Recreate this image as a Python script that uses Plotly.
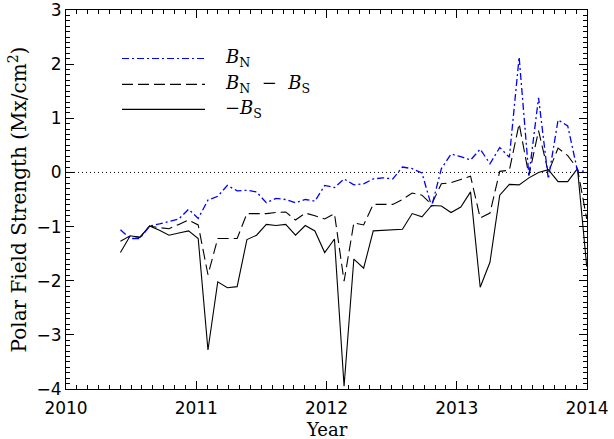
import plotly.graph_objects as go

# Decimal year of each Carrington rotation sample
years = [2010.418, 2010.493, 2010.567, 2010.642, 2010.717, 2010.791, 2010.866, 2010.941,
         2011.015, 2011.090, 2011.165, 2011.239, 2011.314, 2011.389, 2011.463, 2011.538,
         2011.613, 2011.687, 2011.762, 2011.837, 2011.911, 2011.986, 2012.061, 2012.135,
         2012.210, 2012.285, 2012.359, 2012.434, 2012.509, 2012.583, 2012.658, 2012.733,
         2012.807, 2012.882, 2012.956, 2013.031, 2013.106, 2013.180, 2013.255, 2013.330,
         2013.404, 2013.479, 2013.554, 2013.628, 2013.703, 2013.778, 2013.852, 2013.927,
         2013.998]

b_north = [-1.06, -1.22, -1.22, -0.99, -0.95, -0.91, -0.86, -0.68,
           -0.85, -0.51, -0.44, -0.24, -0.34, -0.33, -0.36, -0.56,
           -0.48, -0.50, -0.56, -0.50, -0.53, -0.24, -0.28, -0.12,
           -0.23, -0.21, -0.12, -0.10, -0.12, 0.10, 0.07, -0.01,
           -0.63, 0.07, 0.34, 0.29, 0.23, 0.43, 0.16, 0.46,
           0.28, 2.13, -0.06, 1.38, -0.12, 0.97, 0.86, 0.03,
           0.02]

b_diff = [-1.27, -1.17, -1.20, -0.99, -1.02, -1.04, -0.96, -0.88,
          -0.97, -1.89, -1.22, -1.22, -1.22, -0.76, -0.76, -0.76,
          -0.74, -0.73, -0.88, -0.75, -0.80, -0.86, -0.76, -2.01,
          -0.93, -0.97, -0.59, -0.59, -0.59, -0.50, -0.38, -0.42,
          -0.59, -0.21, -0.19, -0.13, -0.07, -0.84, -0.75, 0.02,
          0.04, 0.90, -0.06, 0.77, 0.00, 0.45, 0.31, 0.07,
          -0.86]

neg_b_south = [-1.48, -1.17, -1.20, -0.99, -1.07, -1.16, -1.12, -1.08,
               -1.22, -3.28, -2.02, -2.13, -2.11, -1.24, -1.16, -0.96,
               -0.98, -0.96, -1.16, -0.98, -1.08, -1.48, -1.23, -3.95,
               -1.60, -1.77, -1.08, -1.07, -1.06, -1.05, -0.76, -0.82,
               -0.61, -0.62, -0.74, -0.64, -0.36, -2.12, -1.66, -0.42,
               -0.22, -0.23, -0.10, 0.00, 0.05, -0.17, -0.17, 0.07,
               -1.74]

x_ticks = [2010, 2011, 2012, 2013, 2014]
y_ticks = [-4, -3, -2, -1, 0, 1, 2, 3]

BLUE = "#0000ff"
BLUE_DASH = "7px,3px,2px,3px"
LONG_DASH = "11px,5px"

fig = go.Figure()
fig.add_trace(go.Scatter(x=years, y=neg_b_south, mode="lines", name="-B_S",
                         line=dict(color="black", width=1.1), showlegend=False))
fig.add_trace(go.Scatter(x=years, y=b_diff, mode="lines", name="B_N - B_S",
                         line=dict(color="black", width=1.1, dash=LONG_DASH), showlegend=False))
fig.add_trace(go.Scatter(x=years, y=b_north, mode="lines", name="B_N",
                         line=dict(color=BLUE, width=1.3, dash=BLUE_DASH), showlegend=False))

# zero reference line
fig.add_shape(type="line", xref="paper", x0=0, x1=1, yref="y", y0=0, y1=0,
              line=dict(color="black", width=1, dash="1px,3px"), layer="below")

# manual legend (paper coordinates)
legend_items = [
    (0.872, BLUE, BLUE_DASH, "<i>B</i><sub>N</sub>"),
    (0.804, "black", LONG_DASH, "<i>B</i><sub>N</sub>  \u2212  <i>B</i><sub>S</sub>"),
    (0.738, "black", "solid", "\u2212<i>B</i><sub>S</sub>"),
]
for yy, col, dash, label in legend_items:
    fig.add_shape(type="line", xref="paper", yref="paper", x0=0.1075, x1=0.2668,
                  y0=yy, y1=yy, line=dict(color=col, width=1.2, dash=dash))
    fig.add_annotation(xref="paper", yref="paper", x=0.302, y=yy + 0.002, text=label,
                       showarrow=False, xanchor="left", yanchor="middle",
                       font=dict(family="DejaVu Serif", size=18, color="black"))

# x-axis title as annotation (placed just below the tick labels)
fig.add_annotation(xref="paper", yref="paper", x=0.5, y=-0.108, text="Year",
                   showarrow=False, xanchor="center", yanchor="middle",
                   font=dict(family="DejaVu Serif", size=18, color="black"))

axis_common = dict(
    showline=True, linecolor="black", linewidth=1, mirror="allticks",
    ticks="inside", ticklen=8, tickwidth=1, tickcolor="black",
    showgrid=False, zeroline=False, automargin=False,
    ticklabeloverflow="allow",
    tickfont=dict(family="DejaVu Sans", size=17, color="black"),
)

fig.update_xaxes(range=[2010, 2014], tickvals=x_ticks, ticktext=[str(v) for v in x_ticks],
                 ticklabelstandoff=4,
                 minor=dict(dtick=1/12, tick0=2010, ticklen=4, tickcolor="black", ticks="inside",
                            showgrid=False),
                 **axis_common)
fig.update_yaxes(range=[-4, 3], tickvals=y_ticks,
                 minor=dict(dtick=0.1, tick0=0, ticklen=4, tickcolor="black", ticks="inside",
                            showgrid=False),
                 title=dict(text="Polar Field Strength (Mx/cm<sup>2</sup>)",
                            font=dict(family="DejaVu Serif", size=20, color="black"),
                            standoff=4),
                 **axis_common)

fig.update_layout(width=614, height=439, margin=dict(l=66, r=27, t=10, b=50),
                  plot_bgcolor="white", paper_bgcolor="white", showlegend=False)

fig.write_html("out.html")
